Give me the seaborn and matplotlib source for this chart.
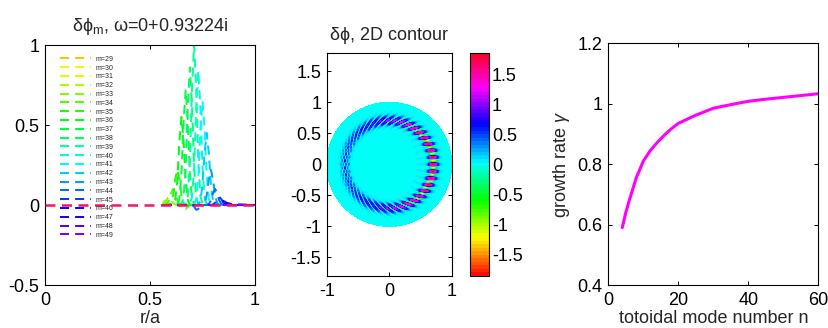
import numpy as np
import pandas as pd
import matplotlib
matplotlib.use("Agg")
import matplotlib.pyplot as plt
import seaborn as sns

# ------------------------------------------------------------------ data
r_grid = [0.56, 0.57, 0.58, 0.59, 0.60, 0.61,
          0.62, 0.63, 0.64, 0.65, 0.66, 0.67,
          0.68, 0.69, 0.70, 0.71, 0.72, 0.73,
          0.74, 0.75, 0.76, 0.77, 0.78, 0.79,
          0.80, 0.81, 0.82, 0.83, 0.84, 0.85,
          0.86, 0.87, 0.88, 0.89, 0.90, 1.00]

mode_numbers = [29, 30, 31, 32, 33, 34, 35, 36, 37, 38, 39,
                40, 41, 42, 43, 44, 45, 46, 47, 48, 49]

mode_profiles = [
    # m=29
    [0, 0, 0, 0, 0, 0,  0, 0, 0, 0, 0, 0,  0, 0, 0, 0, 0, 0,
     0, 0, 0, 0, 0, 0,  0, 0, 0, 0, 0, 0,  0, 0, 0, 0, 0, 0],
    # m=30
    [0.001, 0, 0, 0, 0, 0,  0, 0, 0, 0, 0, 0,  0, 0, 0, 0, 0, 0,
     0, 0, 0, 0, 0, 0,  0, 0, 0, 0, 0, 0,  0, 0, 0, 0, 0, 0],
    # m=31
    [0.009, 0.003, 0.001, 0, 0, 0,  0, 0, 0, 0, 0, 0,  0, 0, 0, 0, 0, 0,
     0, 0, 0, 0, 0, 0,  0, 0, 0, 0, 0, 0,  0, 0, 0, 0, 0, 0],
    # m=32
    [0.018, 0.025, 0.018, 0.007, 0.001, 0,  0, 0, 0, 0, 0, 0,  0, 0, 0, 0, 0, 0,
     0, 0, 0, 0, 0, 0,  0, 0, 0, 0, 0, 0,  0, 0, 0, 0, 0, 0],
    # m=33
    [0.003, 0.014, 0.036, 0.050, 0.036, 0.014,  0.003, 0, 0, 0, 0, 0,  0, 0, 0, 0, 0, 0,
     0, 0, 0, 0, 0, 0,  0, 0, 0, 0, 0, 0,  0, 0, 0, 0, 0, 0],
    # m=34
    [0, 0.001, 0.006, 0.028, 0.073, 0.100,  0.073, 0.028, 0.006, 0.001, -0.012, -0.025,
     -0.012, 0, 0, 0, 0, 0,  0, 0, 0, 0, 0, 0,  0, 0, 0, 0, 0, 0,  0, 0, 0, 0, 0, 0],
    # m=35
    [0, 0, 0, 0.001, 0.012, 0.061,  0.160, 0.220, 0.160, 0.061, 0.012, 0.001,
     0, 0, 0, 0, 0, 0,  0, 0, 0, 0, 0, 0,  0, 0, 0, 0, 0, 0,  0, 0, 0, 0, 0, 0],
    # m=36
    [0, 0, 0, 0, 0, 0.003,  0.031, 0.153, 0.399, 0.550, 0.399, 0.153,
     0.031, 0.003, 0, 0, 0, 0,  0, 0, 0, 0, 0, 0,  0, 0, 0, 0, 0, 0,  0, 0, 0, 0, 0, 0],
    # m=37
    [0, 0, 0, 0, 0, 0,  0, 0.004, 0.040, 0.200, 0.523, 0.720,
     0.523, 0.200, 0.040, 0.004, 0, 0,  0, 0, 0, 0, 0, 0,  0, 0, 0, 0, 0, 0,  0, 0, 0, 0, 0, 0],
    # m=38
    [0, 0, 0, 0, 0, 0,  0, 0, 0, 0.005, 0.048, 0.239,
     0.624, 0.860, 0.624, 0.239, 0.048, 0.005,  0, 0, 0, 0, 0, 0,  0, 0, 0, 0, 0, 0,  0, 0, 0, 0, 0, 0],
    # m=39
    [0, 0, 0, 0, 0, 0,  0, 0, 0, 0, 0, 0.006,
     0.056, 0.278, 0.726, 1.000, 0.726, 0.278,  0.056, 0.006, 0, 0, 0, 0,
     0, 0, 0, 0, 0, 0,  0, 0, 0, 0, 0, 0],
    # m=40
    [0, 0, 0, 0, 0, 0,  0, 0, 0, 0, 0, 0,
     0, 0.005, 0.047, 0.234, 0.610, 0.840,  0.610, 0.234, 0.047, 0.005, 0, 0,
     0, 0, 0, 0, 0, 0,  0, 0, 0, 0, 0, 0],
    # m=41
    [0, 0, 0, 0, 0, 0,  0, 0, 0, 0, 0, 0,
     0, 0, 0, 0.004, 0.036, 0.181,  0.472, 0.650, 0.472, 0.181, 0.036, 0.004,
     0, 0, 0, 0, 0, 0,  0, 0, 0, 0, 0, 0],
    # m=42
    [0, 0, 0, 0, 0, 0,  0, 0, 0, 0, 0, 0,
     0, 0, 0, 0, 0, 0.003,  0.025, 0.125, 0.327, 0.450, 0.327, 0.125,
     0.025, 0.003, 0, 0, 0, 0,  0, 0, 0, 0, 0, 0],
    # m=43
    [0, 0, 0, 0, 0, 0,  0, 0, 0, 0, 0, 0,  0, 0, 0, 0, 0, 0,
     0, 0.001, 0.012, 0.061, 0.160, 0.220,  0.160, 0.061, 0.012, 0.001, 0, 0,
     0, 0, 0, 0, 0, 0],
    # m=44
    [0, 0, 0, 0, 0, 0,  0, 0, 0, 0, 0, 0,
     0, 0, 0, -0.010, -0.030, -0.025,  -0.008, 0, 0, 0.001, 0.006, 0.028,
     0.073, 0.100, 0.073, 0.028, 0.006, 0.001,  0, 0, 0, 0, 0, 0],
    # m=45
    [0, 0, 0, 0, 0, 0,  0, 0, 0, 0, 0, 0,  0, 0, 0, 0, 0, 0,  0, 0, 0, 0, 0, 0,
     0.003, 0.014, 0.036, 0.050, 0.036, 0.014,  0.003, 0, 0, 0, 0, 0],
    # m=46
    [0, 0, 0, 0, 0, 0,  0, 0, 0, 0, 0, 0,  0, 0, 0, 0, 0, 0,  0, 0, 0, 0, 0, 0,
     0, 0, 0.001, 0.007, 0.018, 0.025,  0.018, 0.007, 0.001, 0, 0, 0],
    # m=47
    [0, 0, 0, 0, 0, 0,  0, 0, 0, 0, 0, 0,  0, 0, 0, 0, 0, 0,  0, 0, 0, 0, 0, 0,
     0, 0, 0, 0, 0, 0.003,  0.009, 0.012, 0.009, 0.003, 0, 0],
    # m=48
    [0, 0, 0, 0, 0, 0,  0, 0, 0, 0, 0, 0,  0, 0, 0, 0, 0, 0,  0, 0, 0, 0, 0, 0,
     0, 0, 0, 0, 0, 0,  0, 0.002, 0.004, 0.006, 0.004, 0],
    # m=49
    [0, 0, 0, 0, 0, 0,  0, 0, 0, 0, 0, 0,  0, 0, 0, 0, 0, 0,  0, 0, 0, 0, 0, 0,
     0, 0, 0, 0, 0, 0,  0, 0, 0, 0, 0.002, 0],
]

growth_n = [4, 5, 6, 8, 10, 12, 14, 16, 18, 20, 25, 30, 35, 40, 45, 50, 55, 60]
growth_gamma = [0.59, 0.64, 0.68, 0.755, 0.81, 0.845, 0.872, 0.896, 0.917, 0.935,
                0.962, 0.985, 0.997, 1.008, 1.015, 1.021, 1.027, 1.033]

omega_text = "0+0.93224i"
field_peak = 1.8        # peak |δϕ| of the 2D contour
cbar_limit = 1.86       # colour-bar range (±)

for row in mode_profiles:
    assert len(row) == len(r_grid)

# ------------------------------------------------------------------ style
sns.set_style("ticks")
plt.rcParams.update({
    "font.family": ["Liberation Sans", "DejaVu Sans"],
    "mathtext.fontset": "custom",
    "mathtext.rm": "Liberation Sans",
    "mathtext.it": "Liberation Sans:italic",
    "xtick.direction": "in",
    "ytick.direction": "in",
    "xtick.top": True,
    "ytick.right": True,
    "xtick.major.size": 3,
    "ytick.major.size": 3,
    "xtick.major.width": 0.7,
    "ytick.major.width": 0.7,
    "xtick.major.pad": 5,
    "ytick.major.pad": 4,
    "axes.linewidth": 0.8,
    "axes.edgecolor": "black",
    "xtick.color": "black",
    "ytick.color": "black",
    "font.size": 13,
})

W, H = 829, 328
fig = plt.figure(figsize=(W / 100, H / 100), dpi=100)

def px_axes(left, top, right, bottom):
    return fig.add_axes([left / W, 1 - bottom / H, (right - left) / W, (bottom - top) / H])

ax1 = px_axes(45, 45, 255, 285)
ax2 = px_axes(326.7, 52.7, 451.7, 276)
cax = px_axes(470, 52.7, 489.3, 276)
ax3 = px_axes(608.3, 43.3, 818.3, 285)

# ------------------------------------------------------------------ panel 1
colors = plt.cm.hsv(np.linspace(0.13, 0.76, len(mode_numbers)))
mode_dash = (0, (4.5, 3.0))
for m, prof, c in zip(mode_numbers, mode_profiles, colors):
    sns.lineplot(x=r_grid, y=prof, ax=ax1, color=c, lw=1.45, linestyle=mode_dash,
                 estimator=None, sort=False, label=f"m={m}")
ax1.axhline(0, color="#ff1060", lw=1.8, linestyle=(0, (4.0, 2.6)), zorder=5)

ax1.set_xlim(0, 1)
ax1.set_ylim(-0.5, 1)
ax1.set_xticks([0, 0.5, 1])
ax1.set_xticklabels(["0", "0.5", "1"])
ax1.set_yticks([-0.5, 0, 0.5, 1])
ax1.set_yticklabels(["-0.5", "0", "0.5", "1"])
ax1.set_xlabel("r/a", fontsize=13, labelpad=1)
ax1.set_ylabel("")
ax1.set_title("δϕ$_\\mathrm{m}$, ω=" + omega_text, fontsize=13, pad=10)
h, l = ax1.get_legend_handles_labels()
leg = ax1.legend(h, l, loc="upper left", bbox_to_anchor=(0.07, 0.955),
                 frameon=False, fontsize=5.0, handlelength=4.5, handletextpad=0.7,
                 labelspacing=0.26, borderpad=0, borderaxespad=0)
leg.set_zorder(6)

# ------------------------------------------------------------------ panel 2
theta = np.linspace(0, 2 * np.pi, 1441)
r2d = np.concatenate([[0.0], np.asarray(r_grid)])
P = np.hstack([np.zeros((len(mode_numbers), 1)), np.asarray(mode_profiles)])
harm = np.cos(np.outer(np.asarray(mode_numbers), theta))
field = P.T @ harm
field *= field_peak / np.abs(field).max()
X = r2d[:, None] * np.cos(theta)[None, :]
Y = r2d[:, None] * np.sin(theta)[None, :]
levels = np.linspace(-cbar_limit, cbar_limit, 64)
cs = ax2.contourf(X, Y, field, levels=levels, cmap="hsv", vmin=-cbar_limit, vmax=cbar_limit)
ax2.set_xlim(-1, 1)
ax2.set_ylim(-1.8, 1.8)
ax2.set_xticks([-1, 0, 1])
ax2.set_xticklabels(["-1", "0", "1"])
ax2.set_yticks([-1.5, -1, -0.5, 0, 0.5, 1, 1.5])
ax2.set_yticklabels(["-1.5", "-1", "-0.5", "0", "0.5", "1", "1.5"])
ax2.set_title("δϕ, 2D contour", fontsize=13, pad=9)

cb = fig.colorbar(cs, cax=cax, ticks=[-1.5, -1, -0.5, 0, 0.5, 1, 1.5])
cb.ax.set_yticklabels(["-1.5", "-1", "-0.5", "0", "0.5", "1", "1.5"])
cb.outline.set_linewidth(0.8)
cax.tick_params(direction="in", right=True, left=False, length=3, labelsize=13, pad=2)

# ------------------------------------------------------------------ panel 3
sns.lineplot(x=growth_n, y=growth_gamma, ax=ax3, color="#ff00ff", lw=2.2,
             estimator=None, sort=False)
ax3.set_xlim(0, 60)
ax3.set_ylim(0.4, 1.2)
ax3.set_xticks([0, 20, 40, 60])
ax3.set_yticks([0.4, 0.6, 0.8, 1.0, 1.2])
ax3.set_yticklabels(["0.4", "0.6", "0.8", "1", "1.2"])
ax3.set_xlabel("totoidal mode number n", fontsize=13, labelpad=1)
ax3.set_ylabel("growth rate $\\gamma$", fontsize=13, labelpad=4)

for ax in (ax1, ax2, ax3):
    ax.tick_params(labelsize=13)
    for s in ax.spines.values():
        s.set_visible(True)

fig.savefig("out.png", dpi=100)
